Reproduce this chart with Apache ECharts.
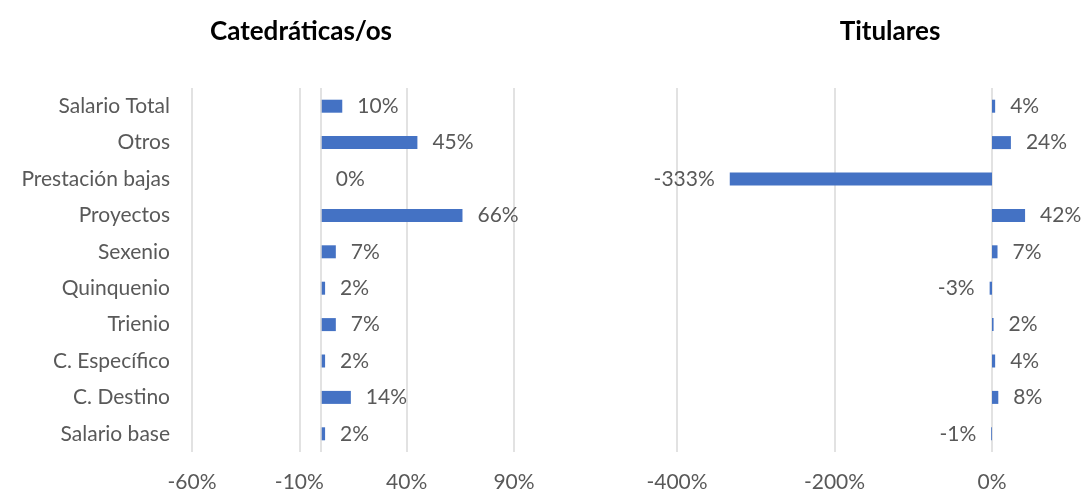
<!DOCTYPE html>
<html>
<head>
<meta charset="utf-8">
<script src="https://cdn.jsdelivr.net/npm/echarts@6/dist/echarts.min.js"></script>
<style>
  html, body { margin: 0; padding: 0; background: #fff; }
  #chart { width: 1085px; height: 493px; }
</style>
</head>
<body>
<div id="chart"></div>
<script>
// categorias de abajo hacia arriba (eje de categorias en ECharts empieza abajo)
var categorias = ['Salario base', 'C. Destino', 'C. Específico', 'Trienio', 'Quinquenio',
  'Sexenio', 'Proyectos', 'Prestación bajas', 'Otros', 'Salario Total'];
var catedraticos = [2, 14, 2, 7, 2, 7, 66, 0, 45, 10];
var titulares = [-1, 8, 4, 2, -3, 7, 42, -333, 24, 4];
var titulos = ['Catedráticas/os', 'Titulares'];

var fuente = 'Lato';
var gris = '#595959';
var linea = '#d9d9d9';
var azul = '#4472C4';
var tam = 21;

function datosConEtiqueta(valores) {
  return valores.map(function (v) {
    return {
      value: v,
      label: { position: v < 0 ? 'left' : 'right' }
    };
  });
}

var chart = echarts.init(document.getElementById('chart'));

var option = {
  animation: false,
  textStyle: { fontFamily: fuente },
  title: [
    {
      text: titulos[0], left: 296, top: 14, textAlign: 'center',
      textStyle: { fontFamily: fuente, fontWeight: 'bold', fontSize: 26, color: '#000' }
    },
    {
      text: titulos[1], left: 885, top: 14, textAlign: 'center',
      textStyle: { fontFamily: fuente, fontWeight: 'bold', fontSize: 26, color: '#000' }
    }
  ],
  grid: [
    { left: 192, width: 322, top: 88, height: 366 },
    { left: 677, width: 315, top: 88, height: 366 }
  ],
  xAxis: [
    {
      gridIndex: 0, type: 'value', min: -60, max: 90, interval: 50,
      axisLine: { show: false }, axisTick: { show: false },
      splitLine: { lineStyle: { color: linea, width: 1.5 } },
      axisLabel: { formatter: '{value}%', color: gris, fontSize: tam, margin: 20, fontFamily: fuente }
    },
    {
      gridIndex: 1, type: 'value', min: -400, max: 0, interval: 200,
      axisLine: { show: false }, axisTick: { show: false },
      splitLine: { lineStyle: { color: linea, width: 1.5 } },
      axisLabel: { formatter: '{value}%', color: gris, fontSize: tam, margin: 20, fontFamily: fuente }
    }
  ],
  yAxis: [
    {
      gridIndex: 0, type: 'category', data: categorias,
      axisLine: { show: false, onZero: false }, axisTick: { show: false },
      axisLabel: { color: gris, fontSize: tam, margin: 22, fontFamily: fuente }
    },
    {
      gridIndex: 1, type: 'category', data: categorias,
      axisLine: { show: false, onZero: false }, axisTick: { show: false },
      axisLabel: { show: false }
    }
  ],
  series: [
    {
      type: 'bar', xAxisIndex: 0, yAxisIndex: 0, barWidth: 13,
      itemStyle: { color: azul },
      label: {
        show: true, distance: 15, color: gris, fontSize: tam, fontFamily: fuente,
        formatter: function (p) { return p.value + '%'; }
      },
      markLine: {
        silent: true, symbol: 'none', label: { show: false },
        lineStyle: { color: linea, width: 1.5, type: 'solid' },
        data: [{ xAxis: 0 }]
      },
      z: 3,
      data: datosConEtiqueta(catedraticos)
    },
    {
      type: 'bar', xAxisIndex: 1, yAxisIndex: 1, barWidth: 13, clip: false,
      itemStyle: { color: azul },
      label: {
        show: true, distance: 15, color: gris, fontSize: tam, fontFamily: fuente,
        formatter: function (p) { return p.value + '%'; }
      },
      z: 3,
      data: datosConEtiqueta(titulares)
    }
  ]
};

chart.setOption(option);
</script>
</body>
</html>
